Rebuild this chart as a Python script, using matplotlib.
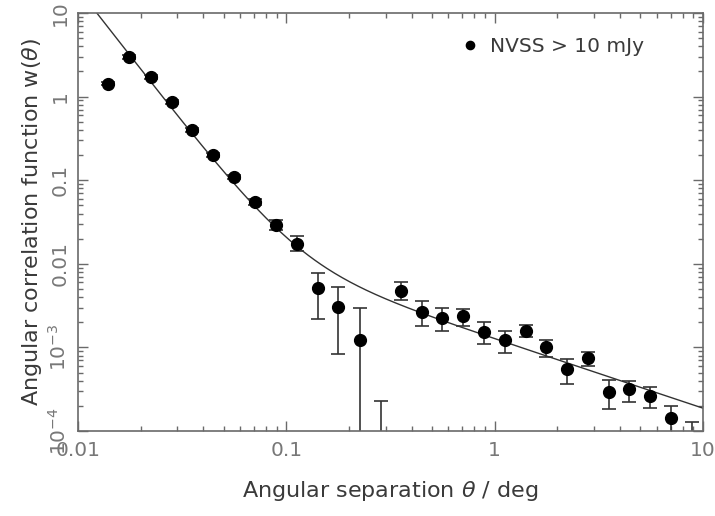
import numpy as np
import matplotlib
matplotlib.use("Agg")
import matplotlib.pyplot as plt
from matplotlib.ticker import LogLocator, NullFormatter, FixedLocator, FixedFormatter

# angular separation (deg) and w(theta)
theta = [0.0139, 0.0176, 0.0224, 0.0283, 0.0353, 0.0445, 0.0561, 0.0707, 0.0892, 0.1125,
         0.142, 0.177, 0.227, 0.285, 0.356, 0.448, 0.559, 0.704, 0.889, 1.12,
         1.415, 1.77, 2.23, 2.81, 3.54, 4.42, 5.57, 7.03, 8.87]
w = [1.42, 2.98, 1.72, 0.86, 0.40, 0.20, 0.109, 0.055, 0.029, 0.0173,
     5.1e-3, 3.04e-3, 1.23e-3, 3e-5, 4.73e-3, 2.65e-3, 2.25e-3, 2.37e-3, 1.53e-3, 1.23e-3,
     1.58e-3, 1.01e-3, 5.5e-4, 7.5e-4, 2.93e-4, 3.18e-4, 2.62e-4, 1.43e-4, 3e-5]
w_hi = [1.49, 3.12, 1.80, 0.90, 0.42, 0.21, 0.115, 0.060, 0.0333, 0.0213,
        7.8e-3, 5.25e-3, 3.0e-3, 2.3e-4, 6.0e-3, 3.59e-3, 2.96e-3, 2.88e-3, 2.0e-3, 1.58e-3,
        1.85e-3, 1.23e-3, 7.3e-4, 8.8e-4, 4.07e-4, 3.96e-4, 3.36e-4, 2.0e-4, 1.28e-4]
w_lo = [1.36, 2.85, 1.64, 0.82, 0.38, 0.19, 0.103, 0.050, 0.0253, 0.0141,
        2.2e-3, 8.3e-4, 5e-5, 1e-5, 3.7e-3, 1.8e-3, 1.58e-3, 1.8e-3, 1.1e-3, 8.6e-4,
        1.33e-3, 7.7e-4, 3.65e-4, 6.0e-4, 1.83e-4, 2.22e-4, 1.88e-4, 5e-5, 1e-5]

# model: sum of two power laws
A, a = 7.73e-6, 3.2
B, b = 1.27e-3, 0.83

ytick_vals = [1e-4, 1e-3, 0.01, 0.1, 1, 10]
ytick_labels = ['$10^{-4}$', '$10^{-3}$', '0.01', '0.1', '1', '10']
xtick_vals = [0.01, 0.1, 1, 10]
xtick_labels = ['0.01', '0.1', '1', '10']

plt.rcParams['font.family'] = ['DejaVu Sans']
plt.rcParams['mathtext.fontset'] = 'dejavusans'

fig = plt.figure(figsize=(7.15, 5.16), dpi=100)
ax = fig.add_axes([0.109, 0.1647, 0.874, 0.81])

frame_col = '#6a6a6a'
tick_col = '#777777'
label_col = '#3a3a3a'

theta = np.array(theta)
w = np.array(w)
yerr = [w - np.array(w_lo), np.array(w_hi) - w]

tt = np.logspace(-2, 1, 400)
ax.plot(tt, A * tt**(-a) + B * tt**(-b), color='#333333', lw=1.0)

ax.errorbar(theta, w, yerr=yerr, fmt='none', ecolor='#333333', elinewidth=1.2,
            capsize=5, capthick=1.2)
ax.plot(theta, w, 'o', color='black', ms=8.5, label='NVSS > 10 mJy')

ax.set_xscale('log')
ax.set_yscale('log')
ax.set_xlim(0.01, 10)
ax.set_ylim(1e-4, 10)

ax.xaxis.set_major_locator(FixedLocator(xtick_vals))
ax.xaxis.set_major_formatter(FixedFormatter(xtick_labels))
ax.yaxis.set_major_locator(FixedLocator(ytick_vals))
ax.yaxis.set_major_formatter(FixedFormatter(ytick_labels))
ax.xaxis.set_minor_locator(LogLocator(base=10, subs=np.arange(2, 10)))
ax.yaxis.set_minor_locator(LogLocator(base=10, subs=np.arange(2, 10)))
ax.xaxis.set_minor_formatter(NullFormatter())
ax.yaxis.set_minor_formatter(NullFormatter())

ax.tick_params(which='both', direction='in', top=True, right=True, color=frame_col,
               labelcolor=tick_col, labelsize=14.5)
ax.tick_params(which='major', length=7, width=1)
ax.tick_params(which='minor', length=3.5, width=1)
ax.tick_params(axis='x', pad=7)
ax.tick_params(axis='y', pad=6)
for lab in ax.get_yticklabels():
    lab.set_rotation(90)
    lab.set_va('center')
for s in ax.spines.values():
    s.set_color(frame_col)
    s.set_linewidth(1.2)

ax.set_xlabel(r'Angular separation $\theta$ / deg', fontsize=16, color=label_col, labelpad=14)
ax.set_ylabel(r'Angular correlation function w($\theta$)', fontsize=16, color=label_col, labelpad=3)

leg = ax.legend(loc='upper right', bbox_to_anchor=(0.935, 0.985), frameon=False,
                fontsize=14.5, markerscale=0.7, handlelength=0.8, handletextpad=0.6)
for t in leg.get_texts():
    t.set_color(label_col)

fig.savefig('out.png', dpi=100)
